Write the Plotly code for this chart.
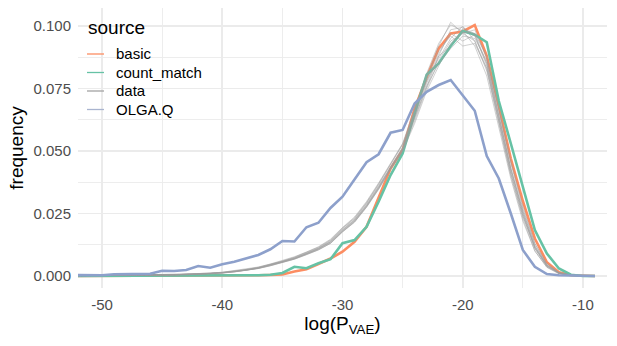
import plotly.graph_objects as go

x_vals = list(range(-54, -8))  # -54 .. -9

basic = [0, 0, 0, 0, 0, 0, 0, 0.0001, 0.0001, 0.0001, 0.0001, 0.0001, 0.0001, 0.0001,
         0.0002, 0.0002, 0.0003, 0.0003, 0.0004, 0.0006, 0.0018, 0.0027, 0.0048, 0.0070, 0.0097, 0.0137, 0.0197, 0.0317, 0.0430, 0.0504,
         0.0670, 0.0795, 0.0910, 0.0970, 0.0978, 0.1004, 0.0880, 0.0680,
         0.0470, 0.0300, 0.0150, 0.0055, 0.0015, 0.0003, 0.0, 0.0]

count_match = [0, 0, 0, 0, 0, 0, 0.0001, 0.0001, 0.0001, 0.0001, 0.0001, 0.0001, 0.0001, 0.0001,
               0.0001, 0.0002, 0.0002, 0.0003, 0.0005, 0.0012, 0.0037, 0.0031, 0.0051, 0.0067, 0.0131, 0.0144, 0.0197, 0.0297, 0.0404, 0.0490,
               0.0650, 0.0805, 0.0850, 0.0920, 0.0980, 0.0965, 0.0935, 0.0700,
               0.0530, 0.0355, 0.0184, 0.0090, 0.0030, 0.0005, 0.0, 0.0]

olga_q = [0.0004, 0.0004, 0.0004, 0.0004, 0.0003, 0.0007, 0.0008, 0.0008, 0.0009, 0.0021, 0.0020, 0.0024, 0.0040, 0.0033,
          0.0047, 0.0057, 0.0071, 0.0084, 0.0107, 0.0140, 0.0138, 0.0195, 0.0213, 0.0272, 0.0317, 0.0384, 0.0455, 0.0487, 0.0573, 0.0584,
          0.0690, 0.0737, 0.0764, 0.0784, 0.0724, 0.0661, 0.0480, 0.0390,
          0.0250, 0.0104, 0.0037, 0.0008, 0.0003, 0.0001, 0.0, 0.0]

data_r1 = [0.0001, 0.0001, 0.0001, 0.0001, 0.0002, 0.0002, 0.0002, 0.0003, 0.0003, 0.0004, 0.0005, 0.0007, 0.0008, 0.0011,
           0.0014, 0.0019, 0.0025, 0.0034, 0.0046, 0.0058, 0.0074, 0.0093, 0.0113, 0.0142, 0.0190, 0.0230, 0.0292, 0.0366, 0.0446, 0.0525,
           0.066, 0.079, 0.092, 0.1015, 0.097, 0.094, 0.082, 0.061,
           0.040, 0.023, 0.010, 0.0035, 0.0010, 0.0003, 0.0, 0.0]
data_r2 = [0.0001, 0.0001, 0.0002, 0.0001, 0.0001, 0.0002, 0.0003, 0.0002, 0.0003, 0.0004, 0.0005, 0.0006, 0.0007, 0.0010,
           0.0012, 0.0017, 0.0023, 0.0031, 0.0042, 0.0055, 0.0068, 0.0087, 0.0106, 0.0132, 0.0178, 0.0218, 0.0278, 0.0350, 0.0430, 0.0510,
           0.064, 0.077, 0.088, 0.0985, 0.0995, 0.096, 0.085, 0.064,
           0.043, 0.026, 0.012, 0.0045, 0.0012, 0.0003, 0.0, 0.0]
data_r3 = [0.0001, 0.0001, 0.0001, 0.0002, 0.0001, 0.0002, 0.0002, 0.0003, 0.0002, 0.0004, 0.0004, 0.0006, 0.0008, 0.0009,
           0.0013, 0.0017, 0.0024, 0.0031, 0.0043, 0.0056, 0.0070, 0.0088, 0.0108, 0.0135, 0.0180, 0.0220, 0.0280, 0.0352, 0.0432, 0.0500,
           0.062, 0.075, 0.086, 0.094, 0.097, 0.0985, 0.087, 0.066,
           0.045, 0.027, 0.013, 0.0045, 0.0014, 0.0004, 0.0, 0.0]
data_r4 = [0.0001, 0.0002, 0.0001, 0.0001, 0.0001, 0.0002, 0.0002, 0.0002, 0.0003, 0.0005, 0.0005, 0.0007, 0.0009, 0.0011,
           0.0015, 0.0020, 0.0026, 0.0035, 0.0047, 0.0060, 0.0075, 0.0094, 0.0115, 0.0144, 0.0192, 0.0232, 0.0294, 0.0368, 0.0448, 0.0528,
           0.065, 0.080, 0.090, 0.096, 0.092, 0.093, 0.083, 0.062,
           0.041, 0.024, 0.011, 0.0038, 0.0011, 0.0002, 0.0, 0.0]
data_r5 = [0.0001, 0.0001, 0.0001, 0.0001, 0.0001, 0.0001, 0.0002, 0.0002, 0.0003, 0.0003, 0.0004, 0.0005, 0.0007, 0.0009,
           0.0012, 0.0016, 0.0022, 0.0030, 0.0041, 0.0053, 0.0067, 0.0085, 0.0105, 0.0130, 0.0176, 0.0215, 0.0275, 0.0346, 0.0426, 0.0505,
           0.063, 0.076, 0.085, 0.091, 0.096, 0.095, 0.086, 0.065,
           0.043, 0.025, 0.0115, 0.0040, 0.0012, 0.0003, 0.0, 0.0]
data_r6 = [0.0002, 0.0001, 0.0001, 0.0002, 0.0002, 0.0002, 0.0003, 0.0003, 0.0004, 0.0004, 0.0006, 0.0007, 0.0009, 0.0012,
           0.0015, 0.0021, 0.0027, 0.0036, 0.0048, 0.0061, 0.0077, 0.0096, 0.0117, 0.0147, 0.0194, 0.0236, 0.0298, 0.0372, 0.0452, 0.0530,
           0.067, 0.081, 0.093, 0.1005, 0.098, 0.092, 0.080, 0.060,
           0.039, 0.022, 0.010, 0.0035, 0.0009, 0.0002, 0.0, 0.0]
data_r7 = [0.0001, 0.0001, 0.0001, 0.0001, 0.0001, 0.0002, 0.0002, 0.0002, 0.0002, 0.0003, 0.0004, 0.0005, 0.0007, 0.0009,
           0.0012, 0.0017, 0.0022, 0.0030, 0.0041, 0.0054, 0.0068, 0.0086, 0.0104, 0.0131, 0.0177, 0.0216, 0.0276, 0.0348, 0.0428, 0.0498,
           0.061, 0.074, 0.084, 0.093, 0.0975, 0.097, 0.088, 0.067,
           0.046, 0.028, 0.013, 0.0050, 0.0015, 0.0004, 0.0, 0.0]
data_r8 = [0.0001, 0.0001, 0.0001, 0.0002, 0.0001, 0.0002, 0.0002, 0.0003, 0.0003, 0.0004, 0.0005, 0.0006, 0.0008, 0.0010,
           0.0014, 0.0018, 0.0025, 0.0033, 0.0045, 0.0057, 0.0072, 0.0091, 0.0111, 0.0139, 0.0186, 0.0226, 0.0288, 0.0360, 0.0440, 0.0515,
           0.064, 0.078, 0.089, 0.097, 0.094, 0.0965, 0.084, 0.063,
           0.042, 0.025, 0.011, 0.0040, 0.0012, 0.0003, 0.0, 0.0]
data_r9 = [0.0001, 0.0001, 0.0001, 0.0001, 0.0002, 0.0001, 0.0002, 0.0002, 0.0003, 0.0004, 0.0005, 0.0006, 0.0008, 0.0010,
           0.0013, 0.0018, 0.0024, 0.0032, 0.0044, 0.0057, 0.0071, 0.0090, 0.0110, 0.0137, 0.0184, 0.0224, 0.0284, 0.0357, 0.0437, 0.0512,
           0.066, 0.078, 0.087, 0.095, 0.100, 0.094, 0.083, 0.062,
           0.041, 0.024, 0.0115, 0.0042, 0.0012, 0.0003, 0.0, 0.0]
data_r10 = [0.0001, 0.0001, 0.0001, 0.0001, 0.0001, 0.0002, 0.0002, 0.0003, 0.0003, 0.0004, 0.0005, 0.0006, 0.0008, 0.0010,
            0.0013, 0.0018, 0.0023, 0.0032, 0.0043, 0.0056, 0.0070, 0.0089, 0.0109, 0.0136, 0.0182, 0.0222, 0.0282, 0.0354, 0.0434, 0.0508,
            0.063, 0.076, 0.088, 0.092, 0.099, 0.097, 0.085, 0.064,
            0.043, 0.026, 0.012, 0.0043, 0.0013, 0.0003, 0.0, 0.0]

data_reps = [data_r1, data_r2, data_r3, data_r4, data_r5, data_r6, data_r7, data_r8, data_r9, data_r10]

legend_title = "source"
legend_names = ["basic", "count_match", "data", "OLGA.Q"]

x_tickvals = [-50, -40, -30, -20, -10]
x_ticktext = ["-50", "-40", "-30", "-20", "-10"]
y_tickvals = [0.0, 0.025, 0.05, 0.075, 0.1]
y_ticktext = ["0.000", "0.025", "0.050", "0.075", "0.100"]

C_BASIC = "#FC8D62"
C_COUNT = "#66C2A5"
C_DATA = "rgba(155,155,155,0.8)"
C_OLGA = "#8DA0CB"
legend_colors = [C_BASIC, C_COUNT, "#A3A3A3", "#A9B4CF"]

FONT = "Liberation Sans, Arial, sans-serif"

fig = go.Figure()

fig.add_trace(go.Scatter(x=x_vals, y=basic, mode="lines", line=dict(color=C_BASIC, width=2.6),
                         name="basic", showlegend=False, hoverinfo="skip"))
fig.add_trace(go.Scatter(x=x_vals, y=count_match, mode="lines", line=dict(color=C_COUNT, width=2.6),
                         name="count_match", showlegend=False, hoverinfo="skip"))
for rep in data_reps:
    fig.add_trace(go.Scatter(x=x_vals, y=rep, mode="lines", line=dict(color=C_DATA, width=0.6),
                             name="data", showlegend=False, hoverinfo="skip"))
fig.add_trace(go.Scatter(x=x_vals, y=olga_q, mode="lines", line=dict(color=C_OLGA, width=2.6),
                         name="OLGA.Q", showlegend=False, hoverinfo="skip"))

# Manual legend (ggplot-style, inside panel top-left)
# plot area: x 78..607 px (529 wide), y 8..288 px (280 tall)
def px_x(p):
    return (p - 78) / 529.0

def px_y(p):
    return (288 - p) / 280.0

annotations = [dict(text=legend_title, xref="paper", yref="paper", x=px_x(86), y=px_y(28),
                    xanchor="left", yanchor="middle", showarrow=False,
                    font=dict(size=19, color="black", family=FONT))]
shapes = []
item_centers = [54, 72.5, 91, 109.5]
for nm, col, cy in zip(legend_names, legend_colors, item_centers):
    shapes.append(dict(type="line", xref="paper", yref="paper",
                       x0=px_x(87), x1=px_x(104), y0=px_y(cy), y1=px_y(cy),
                       line=dict(color=col, width=1.3)))
    annotations.append(dict(text=nm, xref="paper", yref="paper", x=px_x(114), y=px_y(cy),
                            xanchor="left", yanchor="middle", showarrow=False,
                            font=dict(size=15, color="black", family=FONT)))

fig.update_layout(
    width=617, height=346,
    margin=dict(l=78, r=10, t=8, b=58),
    paper_bgcolor="white", plot_bgcolor="white",
    font=dict(family=FONT, color="black"),
    showlegend=False,
    annotations=annotations,
    shapes=shapes,
    xaxis=dict(
        range=[-52, -8],
        tickvals=x_tickvals, ticktext=x_ticktext,
        showgrid=True, gridcolor="#EBEBEB", gridwidth=1.8,
        minor=dict(dtick=5, tick0=-55, showgrid=True, gridcolor="#EBEBEB", gridwidth=0.9),
        zeroline=False, showline=False, automargin=False,
        ticks="outside", ticklen=3, tickcolor="rgba(0,0,0,0)",
        tickfont=dict(size=15, color="#4D4D4D", family=FONT),
        title=dict(text="log(P<sub>VAE</sub>)", font=dict(size=19, color="black", family=FONT), standoff=3),
    ),
    yaxis=dict(
        range=[-0.0048, 0.1072],
        tickvals=y_tickvals, ticktext=y_ticktext,
        showgrid=True, gridcolor="#EBEBEB", gridwidth=1.8,
        minor=dict(dtick=0.0125, tick0=0, showgrid=True, gridcolor="#EBEBEB", gridwidth=0.9),
        zeroline=False, showline=False, automargin=False,
        ticks="outside", ticklen=3, tickcolor="rgba(0,0,0,0)",
        tickfont=dict(size=15, color="#4D4D4D", family=FONT),
        title=dict(text="frequency", font=dict(size=19, color="black", family=FONT), standoff=4),
    ),
)

fig.write_html(
    "out.html",
    config={"displayModeBar": False, "staticPlot": True},
    post_script="document.body.style.margin='0';document.body.style.overflow='hidden';",
)
